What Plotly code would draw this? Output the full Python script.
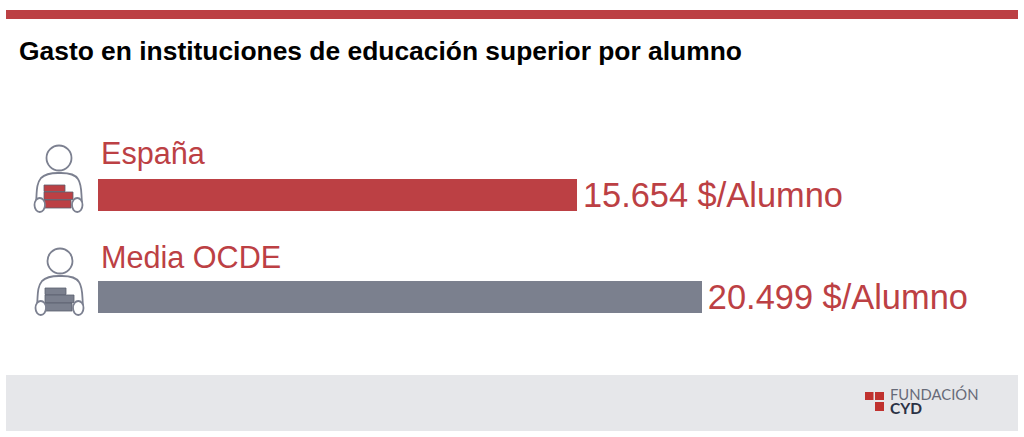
import plotly.graph_objects as go

W, H = 1024, 437
categories = ["España", "Media OCDE"]
# Bar lengths as drawn in the picture (the drawn bars are not strictly proportional to their labels)
bar_lengths = [16257, 20499]
value_labels = ["15.654 $/Alumno", "20.499 $/Alumno"]
bar_colors = ["#bc4044", "#7b808e"]
title = "Gasto en instituciones de educación superior por alumno"
FONT = "Liberation Sans, Arial, sans-serif"
RED = "#bc4044"
OUT = "#7c8090"

def px(x): return x / W
def py(y): return 1 - y / H

def rect(x0, y0, x1, y1, fill, line=None, lw=0):
    return dict(type="rect", xref="paper", yref="paper", x0=px(x0), x1=px(x1), y0=py(y0), y1=py(y1),
                fillcolor=fill, line=dict(color=line or fill, width=lw), layer="below")

def oval(x0, y0, x1, y1, fill="white", line=OUT, lw=1.8):
    return dict(type="circle", xref="paper", yref="paper", x0=px(x0), x1=px(x1), y0=py(y0), y1=py(y1),
                fillcolor=fill, line=dict(color=line, width=lw), layer="above")

def body(dx, dy):
    P = lambda x, y: f"{px(x + dx):.5f},{py(y + dy):.5f}"
    d = (f"M {P(36, 203)} C {P(37, 192)} {P(36, 184)} {P(41, 178)} "
         f"C {P(45, 174)} {P(50, 173)} {P(58, 173)} L {P(61, 173)} "
         f"C {P(69, 173)} {P(75, 174)} {P(78, 179)} C {P(82, 185)} {P(81, 192)} {P(82, 203)}")
    return dict(type="path", xref="paper", yref="paper", path=d, line=dict(color=OUT, width=1.8),
                fillcolor="rgba(0,0,0,0)", layer="above")

def icon(dx, dy, fill):
    shapes = [oval(46.5 + dx, 145.5 + dy, 71.5 + dx, 170.5 + dy), body(dx, dy)]
    for x0, y0, x1, y1 in [(44, 185, 65, 191.5), (44, 192, 73, 199.5), (44, 200, 71, 208)]:
        shapes.append(dict(type="rect", xref="paper", yref="paper", x0=px(x0 + dx), x1=px(x1 + dx),
                           y0=py(y0 + dy), y1=py(y1 + dy), fillcolor=fill,
                           line=dict(color="#5c6070", width=0.8), layer="above"))
    shapes.append(oval(34.5 + dx, 198 + dy, 45 + dx, 212 + dy))
    shapes.append(oval(72 + dx, 198 + dy, 82.5 + dx, 212 + dy))
    return shapes

fig = go.Figure(go.Bar(
    y=list(range(len(categories))), x=bar_lengths, orientation="h", width=0.314,
    marker=dict(color=bar_colors, line=dict(width=0)),
    text=["\u200a" + v for v in value_labels], textposition="outside", cliponaxis=False,
    constraintext="none",
    textfont=dict(family=FONT, size=34.4, color=RED), hoverinfo="skip",
))

annotations = [dict(xref="paper", yref="paper", x=px(17), y=py(51), text=f"<b>{title}</b>",
                    showarrow=False, xanchor="left", yanchor="middle",
                    font=dict(family=FONT, size=26.4, color="#000000"))]
for i, name in enumerate(categories):
    annotations.append(dict(xref="paper", yref="paper", x=px(99), y=py(153 + 103.5 * i), text=name,
                            showarrow=False, xanchor="left", yanchor="middle",
                            font=dict(family=FONT, size=30.6, color=RED)))
annotations.append(dict(xref="paper", yref="paper", x=px(888), y=py(393.5), text="FUNDACIÓN", showarrow=False,
                        xanchor="left", yanchor="middle", font=dict(family="Lato, sans-serif", size=14.8, color="#666a78")))
annotations.append(dict(xref="paper", yref="paper", x=px(888), y=py(408), text="<b>CYD</b>", showarrow=False,
                        xanchor="left", yanchor="middle", font=dict(family="Lato, sans-serif", size=15.5, color="#2b3245")))

shapes = [rect(6, 10, 1018, 19, RED), rect(6, 375, 1018, 431, "#e6e7ea"),
          rect(865, 392, 873.5, 400, "#c0322f"), rect(875, 392, 884, 400, "#c0322f"),
          rect(875, 402, 884, 411, "#c0322f")]
shapes += icon(0, 0, RED) + icon(1, 103, "#7b808e")

fig.update_layout(
    width=W, height=H, margin=dict(l=0, r=0, t=0, b=0), autosize=False,
    paper_bgcolor="white", plot_bgcolor="rgba(0,0,0,0)", showlegend=False,
    xaxis=dict(domain=[98 / W, 1], range=[0, 20499 * 926 / 604], visible=False),
    yaxis=dict(range=[(H - 195) / 102, -195 / 102], visible=False),
    shapes=shapes, annotations=annotations,
)
fig.write_html("out.html", config=dict(displayModeBar=False),
               post_script="document.body.style.margin='0';document.body.style.overflow='hidden';")
